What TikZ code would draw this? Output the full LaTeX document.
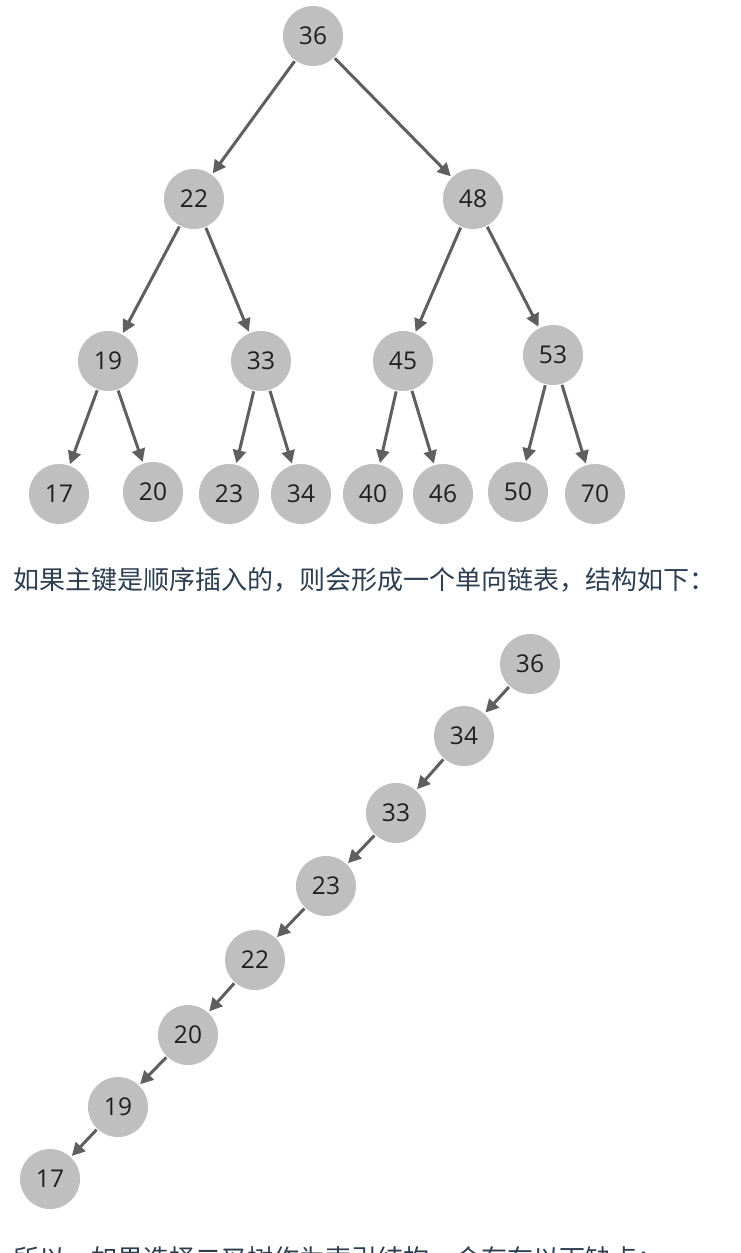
\documentclass[tikz,border=0pt]{standalone}
\usepackage{fontspec}
\setmainfont{Open Sans}
\newfontfamily\cjk{Noto Sans CJK SC}
\usetikzlibrary{arrows.meta}
\definecolor{keyfill}{RGB}{191, 191, 191}
\definecolor{edgegray}{RGB}{95, 95, 95}
\definecolor{textslate}{RGB}{44, 62, 80}

\begin{document}
\begin{tikzpicture}[x=1pt, y=-1pt,
    key/.style={circle, fill=keyfill, minimum size=60pt, inner sep=0pt,
                text=black!88, font=\fontsize{24.5}{24.5}\selectfont},
    link/.style={-{Triangle[length=13pt, width=13pt]}, line width=3pt,
                 draw=edgegray, shorten <=1pt, shorten >=1.5pt},
    caption/.style={anchor=base west, inner sep=0pt, text=textslate,
                    font=\cjk\fontsize{26}{26}\selectfont}]
    \useasboundingbox (0, 0) rectangle (741, 1253);

    % Binary search tree
    \node[key] (t36) at (313, 36) {36};
    \node[key] (t22) at (194, 199) {22};
    \node[key] (t48) at (473, 199) {48};
    \node[key] (t19) at (108, 361) {19};
    \node[key] (t33) at (261, 361) {33};
    \node[key] (t45) at (403, 361) {45};
    \node[key] (t53) at (553, 355) {53};
    \node[key] (t17) at (59, 494) {17};
    \node[key] (t20) at (153, 492) {20};
    \node[key] (t23) at (229, 494) {23};
    \node[key] (t34) at (301, 494) {34};
    \node[key] (t40) at (373, 494) {40};
    \node[key] (t46) at (443, 494) {46};
    \node[key] (t50) at (518, 492) {50};
    \node[key] (t70) at (595, 494) {70};

    % Tree edges
    \draw[link] (t36) -- (t22);
    \draw[link] (t36) -- (t48);
    \draw[link] (t22) -- (t19);
    \draw[link] (t22) -- (t33);
    \draw[link] (t48) -- (t45);
    \draw[link] (t48) -- (t53);
    \draw[link] (t19) -- (t17);
    \draw[link] (t19) -- (t20);
    \draw[link] (t33) -- (t23);
    \draw[link] (t33) -- (t34);
    \draw[link] (t45) -- (t40);
    \draw[link] (t45) -- (t46);
    \draw[link] (t53) -- (t50);
    \draw[link] (t53) -- (t70);

    % Text between the pictures
    \node[caption] (note) at (13, 589) {如果主键是顺序插入的，则会形成一个单向链表，结构如下：};

    % Degenerate tree (linked list)
    \node[key] (c36) at (530, 664) {36};
    \node[key] (c34) at (464, 736) {34};
    \node[key] (c33) at (396, 813) {33};
    \node[key] (c23) at (326, 886) {23};
    \node[key] (c22) at (255, 960) {22};
    \node[key] (c20) at (188, 1035) {20};
    \node[key] (c19) at (118, 1107) {19};
    \node[key] (c17) at (50, 1179) {17};

    % Chain edges
    \draw[link] (c36) -- (c34);
    \draw[link] (c34) -- (c33);
    \draw[link] (c33) -- (c23);
    \draw[link] (c23) -- (c22);
    \draw[link] (c22) -- (c20);
    \draw[link] (c20) -- (c19);
    \draw[link] (c19) -- (c17);

    % Text cut off at the bottom
    \node[caption] (next) at (13, 1268) {所以，如果选择二叉树作为索引结构，会存在以下缺点：};
\end{tikzpicture}
\end{document}
